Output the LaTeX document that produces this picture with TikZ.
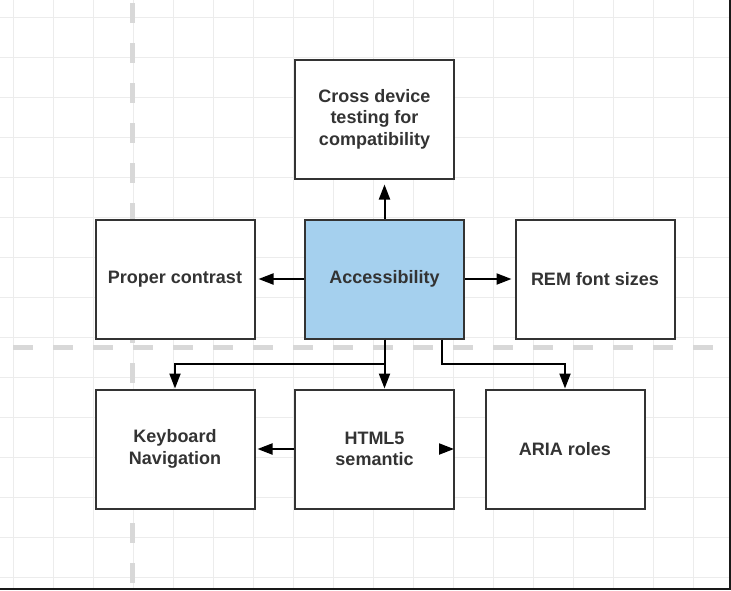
\documentclass[tikz,border=0pt]{standalone}
\usepackage{fontspec}
\setmainfont{Liberation Sans}
\usetikzlibrary{arrows.meta,calc}
\definecolor{gridc}{HTML}{ECECEC}
\definecolor{dashc}{HTML}{D8D8D8}
\definecolor{boxline}{HTML}{333333}
\definecolor{txtc}{HTML}{333333}
\definecolor{accblue}{HTML}{A5D0EE}
\tikzset{
  box/.style={draw=boxline, line width=2pt, fill=white, rectangle, inner sep=0pt,
    minimum width=159pt, minimum height=119pt, anchor=north west, align=center,
    text=txtc, font=\fontsize{18}{21.6}\selectfont\bfseries},
  conn/.style={draw=black, line width=2pt, -{Triangle[length=15pt,width=11pt]}},
  guide/.style={draw=dashc, line width=5pt, dash pattern=on 19.5pt off 20.5pt}
}
\begin{document}
\begin{tikzpicture}[x=1pt,y=-1pt]
\useasboundingbox (0,0) rectangle (731,590);
\fill[white] (0,0) rectangle (731,590);
% grid
\foreach \i in {0,...,17} { \draw[gridc, line width=1.5pt] (13.5+40*\i,0) -- (13.5+40*\i,590); }
\foreach \j in {0,...,14} { \draw[gridc, line width=1.5pt] (0,17.5+40*\j) -- (731,17.5+40*\j); }
% guide lines
\draw[guide] (132,3.3) -- (132,583);
\draw[guide] (13,347.5) -- (713,347.5);
% boxes
\node[box] (cross) at (294,58.5) {Cross device\\testing for\\compatibility};
\node[box] (pc) at (94.5,218.5) {Proper contrast};
\node[box, fill=accblue] (acc) at (304,218.5) {Accessibility};
\node[box] (rem) at (514.5,218.5) {REM font sizes};
\node[box] (kb) at (94.5,388.5) {Keyboard\\Navigation};
\node[box] (html) at (294,388.5) {HTML5\\semantic};
\node[box] (aria) at (484.5,388.5) {ARIA roles};
% connectors
\coordinate (bus) at (0,363.5);
\coordinate (accB) at ($(acc.south east)+(-23.5,0)$);
\draw[conn, shorten >=5pt] (acc.north) -- (acc.north |- cross.south);
\draw[conn, shorten >=3pt] (acc.west) -- (pc.east);
\draw[conn, shorten >=3pt] (acc.east) -- (rem.west);
\draw[conn] (acc.south) -- (acc.south |- html.north);
\draw[conn] (acc.south) -- (acc.south |- bus) -| (kb.north);
\draw[conn] (accB) -- (accB |- bus) -| (aria.north);
\draw[conn, shorten >=2pt] (html.west) -- (kb.east);
\coordinate (htip) at ($(html.east)+(-1,0)$);
\draw[conn] ($(htip)+(-15,0)$) -- (htip);
% frame edges
\fill[black!90] (729,0) rectangle (731,590);
\fill[black!90] (0,588) rectangle (731,590);
\end{tikzpicture}
\end{document}
